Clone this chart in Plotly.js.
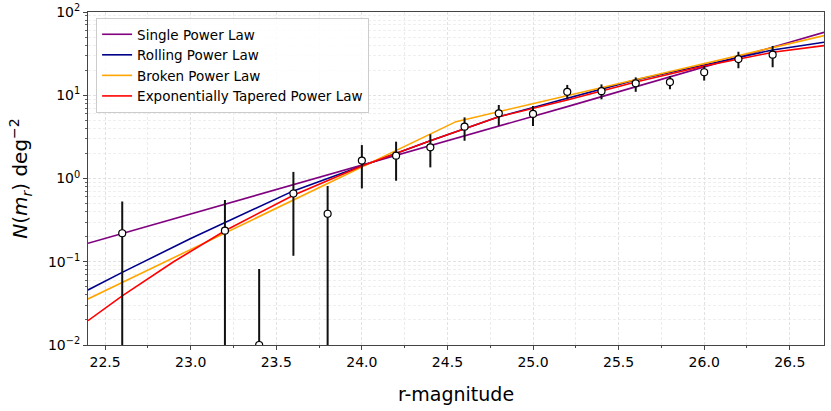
<!DOCTYPE html>
<html>
<head>
<meta charset="utf-8">
<script src="https://cdn.plot.ly/plotly-3.0.1.min.js"></script>
<style>
  html, body { margin: 0; padding: 0; background: #fff; }
  #chart { width: 831px; height: 411px; }
</style>
</head>
<body>
<div id="chart"></div>
<script>
// measured counts per magnitude bin
const magBins = [22.6, 23.2, 23.4, 23.6, 23.8, 24.0, 24.2, 24.4, 24.6, 24.8, 25.0, 25.2, 25.4, 25.6, 25.8, 26.0, 26.2, 26.4];
const counts  = [0.22, 0.236, 0.01, 0.66, 0.377, 1.64, 1.88, 2.37, 4.19, 6.07, 5.96, 11.0, 11.2, 13.9, 14.4, 18.9, 27.2, 30.7];
const countsHi = [0.53, 0.55, 0.082, 1.2, 0.81, 2.52, 2.77, 3.4, 5.42, 7.64, 7.43, 13.3, 13.5, 16.4, 17.0, 22.5, 33.3, 39.1];
const countsLo = [0, 0, 0, 0.118, 0, 0.76, 0.94, 1.36, 2.84, 4.3, 4.27, 8.93, 8.93, 11.0, 11.8, 15.0, 21.1, 21.7];

// fitted models
const singleMag = [22.4, 24.0, 25.2, 26.7];
const singleN   = [0.167, 1.46, 7.3, 57];

const rollingMag = [22.4, 22.6, 23.0, 23.2, 23.6, 24.0, 24.4, 24.8, 25.2, 25.6, 26.0, 26.4, 26.7];
const rollingN   = [0.0458, 0.0746, 0.19, 0.294, 0.71, 1.41, 2.84, 5.52, 9.18, 15.3, 23.1, 35.0, 43.3];

const brokenMag = [22.4, 24.55, 26.7];
const brokenN   = [0.0357, 4.82, 52];

const taperMag = [22.4, 22.6, 22.9, 23.2, 23.6, 24.0, 24.4, 24.8, 25.2, 25.6, 26.0, 26.4, 26.7];
const taperN   = [0.0196, 0.039, 0.1, 0.236, 0.63, 1.41, 2.84, 5.52, 8.77, 14.4, 22.4, 32.8, 39.5];

const font = 'DejaVu Sans, sans-serif';
const gridDash = '3px,2px';

const plus = counts.map((v, i) => countsHi[i] - v);
const minus = counts.map((v, i) => v - countsLo[i]);

const traces = [
  { x: singleMag, y: singleN, mode: 'lines', name: 'Single Power Law',
    line: { color: '#800080', width: 1.6 } },
  { x: rollingMag, y: rollingN, mode: 'lines', name: 'Rolling Power Law',
    line: { color: '#00008b', width: 1.6 } },
  { x: brokenMag, y: brokenN, mode: 'lines', name: 'Broken Power Law',
    line: { color: '#ffa500', width: 1.6 } },
  { x: taperMag, y: taperN, mode: 'lines', name: 'Exponentially Tapered Power Law',
    line: { color: '#ff0000', width: 1.6 } },
  { x: magBins, y: counts, mode: 'markers', showlegend: false,
    marker: { color: '#ffffff', size: 7, line: { color: '#000000', width: 1.2 } },
    error_y: { type: 'data', symmetric: false, array: plus, arrayminus: minus,
               color: '#111111', thickness: 2, width: 0 } }
];

const layout = {
  width: 831, height: 411,
  margin: { l: 88, r: 7, t: 12, b: 66 },
  paper_bgcolor: '#ffffff', plot_bgcolor: '#ffffff',
  font: { family: font, size: 14, color: '#000' },
  showlegend: true,
  legend: {
    x: 0.011, y: 0.982, xanchor: 'left', yanchor: 'top',
    bgcolor: 'rgba(255,255,255,0.85)', bordercolor: '#cccccc', borderwidth: 1,
    font: { family: font, size: 13.5 }, tracegroupgap: 0, itemwidth: 30
  },
  xaxis: {
    range: [22.4, 26.7], dtick: 0.5, tick0: 22.5, tickformat: '.1f',
    showline: true, linecolor: '#444', linewidth: 1, mirror: true,
    ticks: 'outside', ticklen: 4, tickcolor: '#444',
    showgrid: true, gridcolor: '#e2e2e2', griddash: gridDash, gridwidth: 1,
    zeroline: false,
    minor: { dtick: 0.25, ticks: 'outside', ticklen: 2, tickcolor: '#444',
             showgrid: true, gridcolor: '#ececec', griddash: gridDash },
    tickfont: { size: 14 },
    title: { text: 'r-magnitude', font: { size: 19 }, standoff: 18 }
  },
  yaxis: {
    type: 'log', range: [-2, 2],
    tickvals: [0.01, 0.1, 1, 10, 100],
    ticktext: ['10<sup>−2</sup>', '10<sup>−1</sup>', '10<sup>0</sup>', '10<sup>1</sup>', '10<sup>2</sup>'],
    showline: true, linecolor: '#444', linewidth: 1, mirror: true,
    ticks: 'outside', ticklen: 4, tickcolor: '#444',
    showgrid: true, gridcolor: '#e2e2e2', griddash: gridDash,
    zeroline: false,
    minor: { dtick: 'D1', ticks: 'outside', ticklen: 2, tickcolor: '#666',
             showgrid: true, gridcolor: '#efefef', griddash: gridDash },
    tickfont: { size: 14 },
    title: { text: '<i>N</i>(<i>m<sub>r</sub></i>) deg<sup>−2</sup>', font: { size: 20 }, standoff: 14 }
  }
};

Plotly.newPlot('chart', traces, layout, { staticPlot: true });
</script>
</body>
</html>
